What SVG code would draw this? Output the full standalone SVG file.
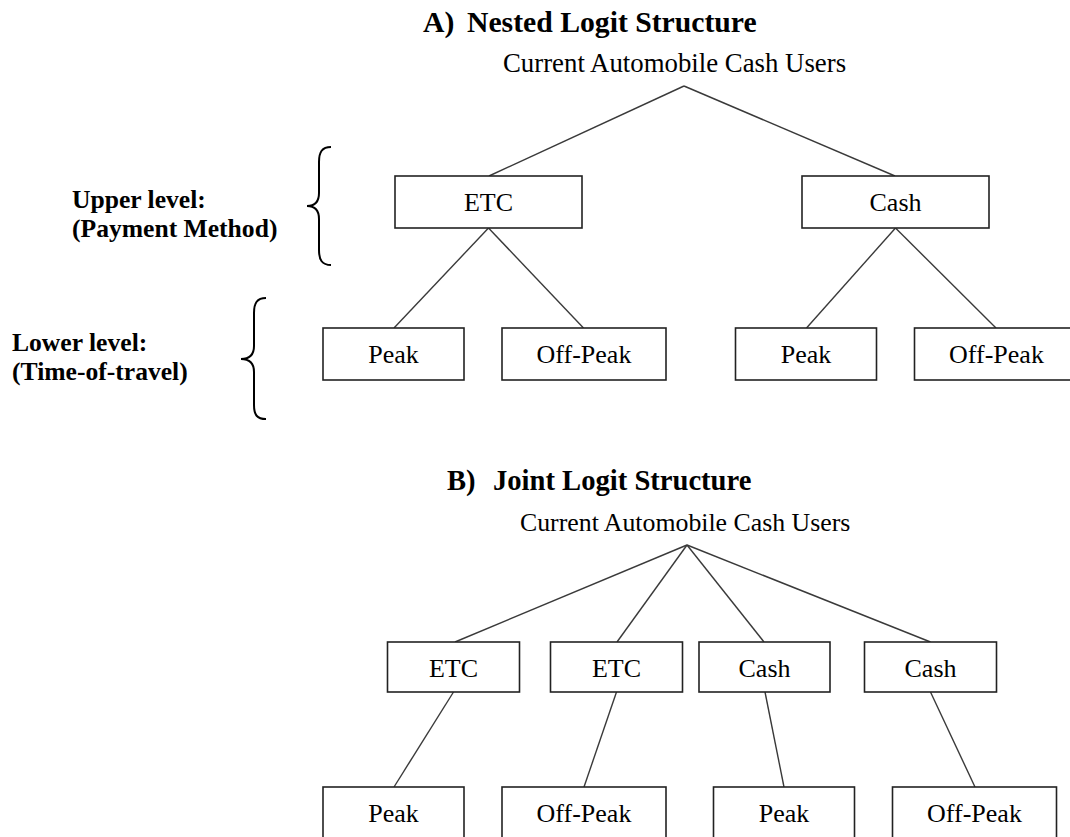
<svg xmlns="http://www.w3.org/2000/svg" width="1070" height="837" viewBox="0 0 1070 837">
<style>
text{font-family:"Liberation Serif","Times New Roman",serif;fill:#000}
.t{font-weight:bold}
.lbl{font-weight:bold;font-size:25.6px}
.box rect{fill:#fff;stroke:#222;stroke-width:1.6}
.box text{font-size:26px;text-anchor:middle}
.root{font-size:26.8px}
#connectors line{stroke:#3a3a3a;stroke-width:1.4}
.brace{fill:none;stroke:#000;stroke-width:2}
</style>
<rect width="1070" height="837" fill="#fff"/>

<!-- Titles -->
<text class="t" font-size="29.7" y="32"><tspan x="423">A)</tspan><tspan x="467">Nested Logit Structure</tspan></text>
<text class="t" font-size="28.6" y="490"><tspan x="447">B)</tspan><tspan x="493">Joint Logit Structure</tspan></text>

<!-- Side labels -->
<g id="upper_label">
<text class="lbl" x="72" y="208">Upper level:</text>
<text class="lbl" x="72" y="237">(Payment Method)</text>
<path class="brace" d="M331,147 C322,147 319,152 319,162 L319,193 C319,201 315,206 307,206 C315,206 319,211 319,219 L319,250 C319,260 322,265 331,265"/>
</g>
<g id="lower_label">
<text class="lbl" x="12" y="351">Lower level:</text>
<text class="lbl" x="12" y="380">(Time-of-travel)</text>
<path class="brace" d="M266,298 C257,298 254,303 254,313 L254,346 C254,354 250,359 241,359 C250,359 254,364 254,372 L254,405 C254,415 257,419 266,419"/>
</g>

<!-- Connectors -->
<g id="connectors">
  <line x1="684" y1="86" x2="489" y2="176"/>
  <line x1="684" y1="86" x2="895" y2="176"/>
  <line x1="488.5" y1="228" x2="394" y2="328"/>
  <line x1="488.5" y1="228" x2="583.5" y2="328"/>
  <line x1="895.5" y1="228" x2="806.5" y2="328"/>
  <line x1="895.5" y1="228" x2="996" y2="328"/>
  <line x1="687" y1="545" x2="455" y2="642"/>
  <line x1="687" y1="545" x2="617" y2="642"/>
  <line x1="687" y1="545" x2="764" y2="642"/>
  <line x1="687" y1="545" x2="930.5" y2="642"/>
  <line x1="453.5" y1="692" x2="394" y2="787"/>
  <line x1="616.5" y1="692" x2="584" y2="787"/>
  <line x1="765" y1="692" x2="784" y2="787"/>
  <line x1="930.5" y1="692" x2="975" y2="787"/>
</g>

<!-- A) nested -->
<g id="rootA"><text class="root" x="503" y="72">Current Automobile Cash Users</text></g>
<g id="a_etc" class="box"><rect x="395" y="176" width="187" height="52"/><text x="488.5" y="211">ETC</text></g>
<g id="a_cash" class="box"><rect x="802" y="176" width="187" height="52"/><text x="895.5" y="211">Cash</text></g>
<g id="a_etc_peak" class="box"><rect x="323" y="328" width="141" height="52"/><text x="393.5" y="363">Peak</text></g>
<g id="a_etc_off" class="box"><rect x="502" y="328" width="164" height="52"/><text x="584" y="363">Off-Peak</text></g>
<g id="a_cash_peak" class="box"><rect x="735.5" y="328" width="141" height="52"/><text x="806" y="363">Peak</text></g>
<g id="a_cash_off" class="box"><rect x="914.5" y="328" width="164" height="52"/><text x="996.5" y="363">Off-Peak</text></g>

<!-- B) joint -->
<g id="rootB"><text x="520" y="531" font-size="25.8">Current Automobile Cash Users</text></g>
<g id="b_etc1" class="box"><rect x="387.5" y="642" width="132" height="50"/><text x="453.5" y="677">ETC</text></g>
<g id="b_etc2" class="box"><rect x="550.5" y="642" width="132" height="50"/><text x="616.5" y="677">ETC</text></g>
<g id="b_cash1" class="box"><rect x="699" y="642" width="131" height="50"/><text x="764.5" y="677">Cash</text></g>
<g id="b_cash2" class="box"><rect x="864.5" y="642" width="132" height="50"/><text x="930.5" y="677">Cash</text></g>
<g id="b_peak1" class="box"><rect x="323" y="787" width="141" height="52"/><text x="393.5" y="822">Peak</text></g>
<g id="b_off1" class="box"><rect x="502" y="787" width="164" height="52"/><text x="584" y="822">Off-Peak</text></g>
<g id="b_peak2" class="box"><rect x="713.5" y="787" width="141" height="52"/><text x="784" y="822">Peak</text></g>
<g id="b_off2" class="box"><rect x="892.5" y="787" width="164" height="52"/><text x="974.5" y="822">Off-Peak</text></g>
</svg>
